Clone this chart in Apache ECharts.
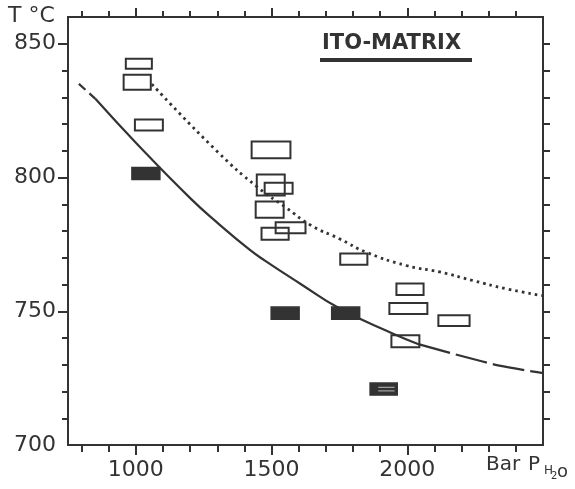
<!DOCTYPE html>
<html lang="en">
<head>
    <meta charset="UTF-8">
    <title>ITO-MATRIX</title>
    <script src="https://cdn.jsdelivr.net/npm/echarts@6/dist/echarts.min.js"></script>
    <style>
        html, body { margin: 0; padding: 0; background: #fff; }
        #main { width: 575px; height: 489px; }
    </style>
</head>
<body>
<div id="main"></div>
<script>
    // axis ticks and labels
    var pTicks = [800, 900, 1000, 1100, 1200, 1300, 1400, 1500, 1600, 1700, 1800, 1900, 2000, 2100, 2200, 2300, 2400];
    var pLabels = [1000, 1500, 2000];
    var tTicks = [710, 720, 730, 740, 750, 760, 770, 780, 790, 800, 810, 820, 830, 840, 850];
    var tLabels = [700, 750, 800, 850];

    // boxes: [P centre, T centre, P width, T height]
    var openBoxes = [
        [1011, 842.5, 96, 3.7],
        [1005, 835.6, 100, 5.6],
        [1048, 819.6, 103, 4.1],
        [1498, 810.3, 143, 6.3],
        [1497, 797.2, 103, 7.8],
        [1526, 796.0, 103, 4.1],
        [1493, 788.0, 103, 6.0],
        [1570, 781.2, 110, 4.1],
        [1513, 779.0, 100, 4.5],
        [1803, 769.5, 100, 4.2],
        [2010, 758.2, 100, 4.3],
        [2004, 751.0, 140, 4.1],
        [2172, 746.5, 115, 4.1],
        [1993, 738.8, 103, 4.5]
    ];
    var filledBoxes = [
        [1037, 801.5, 103, 4.5],
        [1550, 749.3, 103, 4.5],
        [1773, 749.3, 103, 4.5]
    ];
    var hatchedBoxes = [
        [1913, 720.9, 100, 4.5]
    ];

    // curves: [P, T]
    var solidHead = [[790, 835], [850, 829.5]];
    var solidCurve = [[850, 829.5], [1000, 813], [1203, 792], [1307, 782.5], [1419, 773],
        [1474, 769], [1607, 760.2], [1751, 751], [1948, 741.6], [2044, 737.6]];
    var solidTail = [[2044, 737.6], [2274, 731.3], [2374, 729], [2500, 726.9]];
    var dottedCurve = [[1059, 834.9], [1302, 809.5], [1448, 796.4], [1554, 788.7], [1647, 782],
        [1750, 777.1], [1848, 772.1], [1996, 767.1], [2119, 764.7], [2241, 761.5], [2364, 758.4], [2500, 755.8]];

    var ink = '#333';
    var chart = echarts.init(document.getElementById('main'));

    function boxRender(kind) {
        return function (params, api) {
            var p = api.value(0), t = api.value(1), dp = api.value(2), dt = api.value(3);
            var a = api.coord([p - dp / 2, t + dt / 2]);
            var b = api.coord([p + dp / 2, t - dt / 2]);
            var x = a[0], y = a[1], w = b[0] - a[0], h = b[1] - a[1];
            var rect = {
                type: 'rect',
                shape: {x: x, y: y, width: w, height: h},
                style: kind === 'open'
                    ? {fill: 'none', stroke: ink, lineWidth: 2}
                    : {fill: ink, stroke: ink, lineWidth: 1.5}
            };
            if (kind !== 'hatched') return rect;
            return {
                type: 'group',
                children: [rect,
                    {type: 'line', shape: {x1: x + w * 0.3, y1: y + h * 0.35, x2: x + w * 0.9, y2: y + h * 0.35},
                        style: {stroke: '#bbb', lineWidth: 1}},
                    {type: 'line', shape: {x1: x + w * 0.3, y1: y + h * 0.65, x2: x + w * 0.9, y2: y + h * 0.65},
                        style: {stroke: '#bbb', lineWidth: 1}}]
            };
        };
    }

    function plain(v) { return String(v); }

    function xAx(pos, ticks, len, labels) {
        return {
            type: 'value', position: pos, min: 750, max: 2500,
            axisLine: {show: true, onZero: false, lineStyle: {color: ink, width: 2}},
            splitLine: {show: false},
            axisTick: {show: true, customValues: ticks, length: len, lineStyle: {color: ink, width: 2}},
            axisLabel: labels ? {customValues: labels, formatter: plain, fontSize: 22, color: ink, margin: 14,
                fontFamily: 'DejaVu Sans'} : {show: false}
        };
    }
    function yAx(pos, ticks, len, labels) {
        return {
            type: 'value', position: pos, min: 700, max: 860,
            axisLine: {show: true, onZero: false, lineStyle: {color: ink, width: 2}},
            splitLine: {show: false},
            axisTick: {show: true, customValues: ticks, length: len, lineStyle: {color: ink, width: 2}},
            axisLabel: labels ? {customValues: labels, formatter: plain, fontSize: 22, color: ink, margin: 12,
                fontFamily: 'DejaVu Sans'} : {show: false}
        };
    }

    function curve(data, type, width) {
        return {
            type: 'line', data: data, smooth: 0.5, symbol: 'none', silent: true,
            lineStyle: {color: ink, width: width, type: type, cap: 'butt'}
        };
    }

    var option = {
        animation: false,
        grid: {left: 68, right: 32, top: 17, bottom: 44},
        xAxis: [
            xAx('bottom', pTicks, 7, pLabels),
            xAx('top', pTicks, 6, null),
            xAx('bottom', pLabels, 10, null),
            xAx('top', pLabels, 9, null)
        ],
        yAxis: [
            yAx('left', tTicks, 6, tLabels),
            yAx('right', tTicks, 7, null),
            yAx('left', [750, 800, 850], 10, null)
        ],
        series: [
            curve(solidHead, [9, 5], 2.2),
            curve(solidCurve, 'solid', 2.2),
            curve(solidTail, [32, 6], 2.2),
            curve(dottedCurve, [2.6, 4], 2.8),
            {type: 'custom', renderItem: boxRender('open'), data: openBoxes, encode: {x: 0, y: 1}, z: 5},
            {type: 'custom', renderItem: boxRender('filled'), data: filledBoxes, encode: {x: 0, y: 1}, z: 5},
            {type: 'custom', renderItem: boxRender('hatched'), data: hatchedBoxes, encode: {x: 0, y: 1}, z: 5}
        ],
        graphic: [
            {type: 'text', left: 8, top: 5, style: {text: 'T °C', font: '22px DejaVu Sans', fill: ink}},
            {type: 'text', left: 322, top: 33, style: {text: 'ITO-MATRIX', font: 'bold 21px DejaVu Sans', fill: ink}},
            {type: 'rect', left: 320, top: 58, shape: {width: 152, height: 4}, style: {fill: ink}},
            {type: 'text', left: 486, top: 455, style: {text: 'Bar', font: '20px DejaVu Sans', fill: ink}},
            {type: 'text', left: 528, top: 455, style: {text: 'P', font: '20px DejaVu Sans', fill: ink}},
            {type: 'text', left: 544, top: 465, style: {text: 'H', font: '12px DejaVu Sans', fill: ink}},
            {type: 'text', left: 551, top: 471, style: {text: '2', font: '10px DejaVu Sans', fill: ink}},
            {type: 'text', left: 557, top: 463, style: {text: 'o', font: '18px DejaVu Sans', fill: ink}}
        ]
    };
    chart.setOption(option);
</script>
</body>
</html>
